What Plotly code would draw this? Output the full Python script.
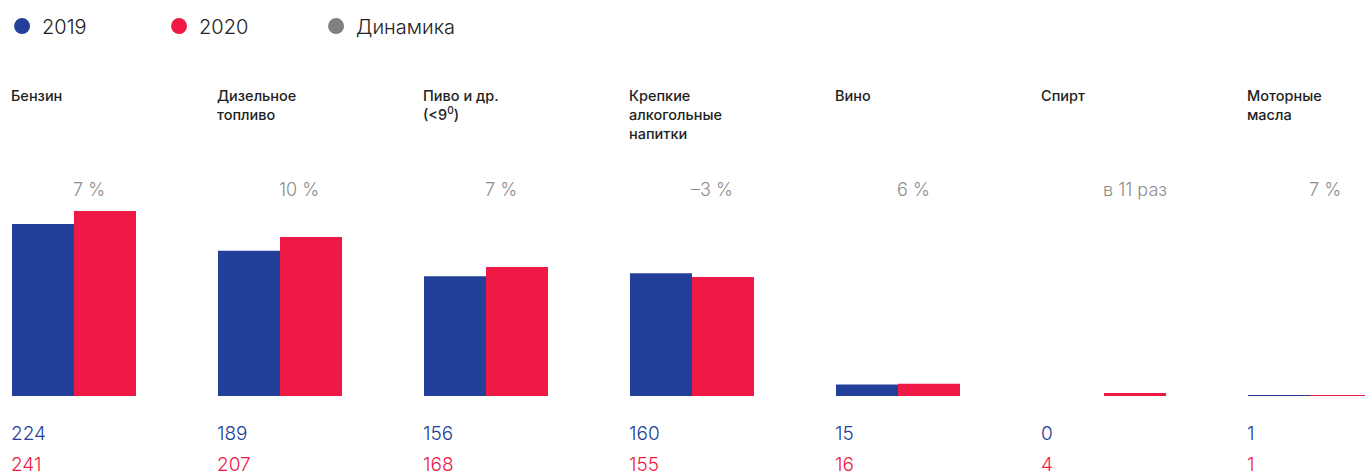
import plotly.graph_objects as go

categories = [
    "Бензин",
    "Дизельное<br>топливо",
    "Пиво и др.<br>(<9<sup>0</sup>)",
    "Крепкие<br>алкогольные<br>напитки",
    "Вино",
    "Спирт",
    "Моторные<br>масла",
]
values_2019 = [224, 189, 156, 160, 15, 0, 1]
values_2020 = [241, 207, 168, 155, 16, 4, 1]
dynamics = ["7 %", "10 %", "7 %", "–3 %", "6 %", "в 11 раз", "7 %"]

BLUE = "#22409a"
RED = "#ee1944"
GREY = "#808083"
FONT = "Inter, Lato, sans-serif"

x = list(range(len(categories)))
half = 0.301  # half of a group's width, in x units

fig = go.Figure()
fig.add_trace(go.Bar(x=x, y=values_2019, marker=dict(color=BLUE, line_width=0), showlegend=False))
fig.add_trace(go.Bar(x=x, y=values_2020, marker=dict(color=RED, line_width=0), showlegend=False))

# legend with round markers
for name, color in [("2019", BLUE), ("2020", RED), ("Динамика", GREY)]:
    fig.add_trace(go.Scatter(
        x=[None], y=[None], mode="markers", name=name,
        marker=dict(color=color, size=18, symbol="circle"),
    ))

for i, cat in enumerate(categories):
    fig.add_annotation(
        x=i - half, y=1.375, xref="x", yref="paper", text=cat,
        xanchor="left", yanchor="top", align="left", showarrow=False, xshift=-3,
        font=dict(size=14.5, color="#222222", family=FONT, weight=500),
    )
    fig.add_annotation(
        x=i, y=0.915, xref="x", yref="paper", text=dynamics[i],
        xanchor="left", yanchor="middle", showarrow=False, xshift=-3,
        font=dict(size=18, color="#8c8c8c", family=FONT, weight=300),
    )
    fig.add_annotation(
        x=i - half, y=-0.168, xref="x", yref="paper", text=str(values_2019[i]),
        xanchor="left", yanchor="middle", showarrow=False, xshift=-3,
        font=dict(size=19, color=BLUE, family=FONT, weight=300),
    )
    fig.add_annotation(
        x=i - half, y=-0.301, xref="x", yref="paper", text=str(values_2020[i]),
        xanchor="left", yanchor="middle", showarrow=False, xshift=-3,
        font=dict(size=19, color=RED, family=FONT, weight=300),
    )

fig.update_layout(
    width=1365,
    height=473,
    margin=dict(l=0, r=0, t=170, b=77),
    barmode="group",
    bargap=0.398,
    bargroupgap=0,
    plot_bgcolor="white",
    paper_bgcolor="white",
    font=dict(family=FONT, color="#222222"),
    legend=dict(
        orientation="h", x=0.0015, y=1.637, xanchor="left", yanchor="middle",
        font=dict(size=20, color="#222222", family=FONT, weight=300),
        entrywidth=112, entrywidthmode="pixels",
    ),
    xaxis=dict(range=[-74 / 206, 1291 / 206], visible=False),
    yaxis=dict(range=[0, 294.3], visible=False),
)

fig.write_html(
    "out.html",
    config={"displayModeBar": False},
    post_script="document.body.style.margin='0';",
)
